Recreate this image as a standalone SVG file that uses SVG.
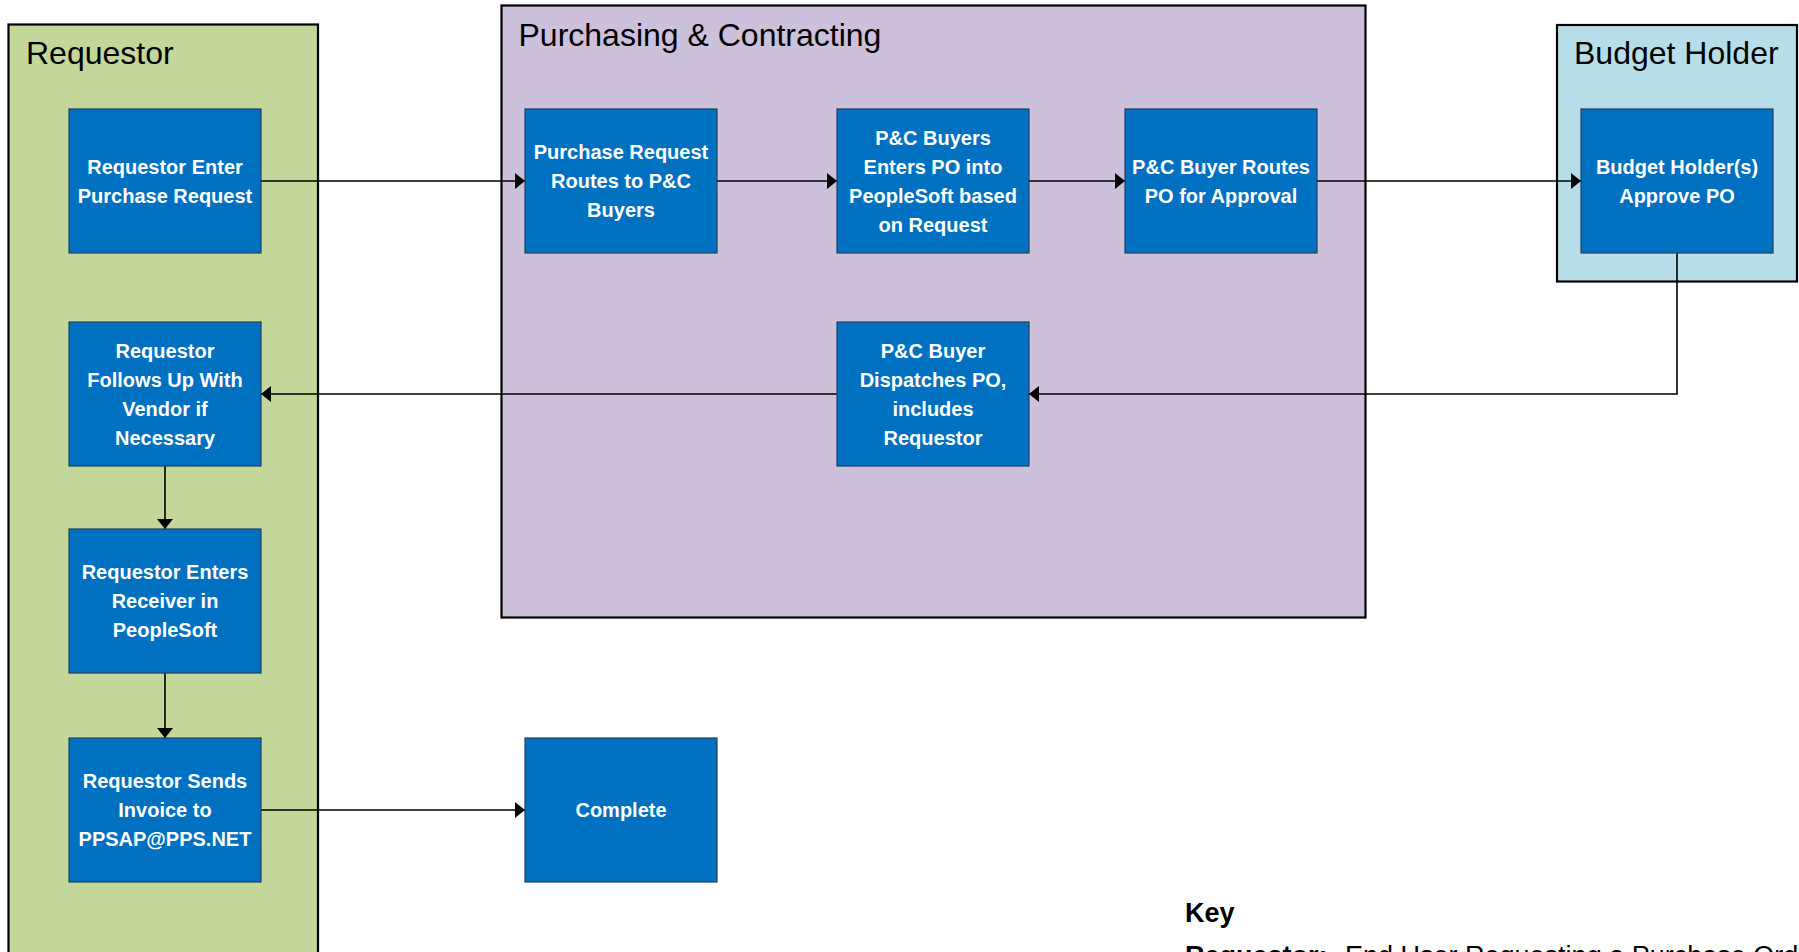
<svg xmlns="http://www.w3.org/2000/svg" width="1799" height="952" viewBox="0 0 1799 952">
<defs>
<style>
.lane{stroke:#000;stroke-width:2.2}
.lt{font-family:"Liberation Sans",Arial,sans-serif;font-size:32px;fill:#000}
.box{fill:#0070C0;stroke:#243F60;stroke-width:1.2}
.bt{font-family:"Liberation Sans",Arial,sans-serif;font-size:20px;font-weight:bold;fill:#fff;text-anchor:middle}
.cn{fill:none;stroke:#000;stroke-width:1.6}
.kt{font-family:"Liberation Sans",Arial,sans-serif;font-size:27px;fill:#000}
</style>
<marker id="ah" markerUnits="userSpaceOnUse" markerWidth="10" markerHeight="16" refX="10" refY="8" orient="auto">
<path d="M0,0 L10,8 L0,16 Z" fill="#000"/>
</marker>
</defs>
<rect width="1799" height="952" fill="#fff"/>
<g id="lane-requestor">
<rect class="lane" x="8.5" y="24.5" width="309.5" height="940" fill="#C4D79B"/>
<text class="lt" x="26" y="64">Requestor</text>
</g>
<g id="lane-purchasing">
<rect class="lane" x="501.5" y="5.5" width="864" height="612" fill="#CCC0DA"/>
<text class="lt" x="518.5" y="46">Purchasing &amp; Contracting</text>
</g>
<g id="lane-budget">
<rect class="lane" x="1557" y="25" width="240" height="256.5" fill="#B7DEE8"/>
<text class="lt" x="1574" y="64">Budget Holder</text>
</g>
<g id="connectors">
<path class="cn" d="M261,181 H525" marker-end="url(#ah)"/>
<path class="cn" d="M717,181 H837" marker-end="url(#ah)"/>
<path class="cn" d="M1029,181 H1125" marker-end="url(#ah)"/>
<path class="cn" d="M1317,181 H1581" marker-end="url(#ah)"/>
<path class="cn" d="M1677,253 V394 H1029" marker-end="url(#ah)"/>
<path class="cn" d="M837,394 H261" marker-end="url(#ah)"/>
<path class="cn" d="M165,466 V529" marker-end="url(#ah)"/>
<path class="cn" d="M165,673 V738" marker-end="url(#ah)"/>
<path class="cn" d="M261,810 H525" marker-end="url(#ah)"/>
</g>
<g id="n1">
<rect class="box" x="69" y="109" width="192" height="144"/>
<text class="bt" x="165" y="173.5">Requestor Enter</text>
<text class="bt" x="165" y="202.5">Purchase Request</text>
</g>
<g id="n2">
<rect class="box" x="525" y="109" width="192" height="144"/>
<text class="bt" x="621" y="159">Purchase Request</text>
<text class="bt" x="621" y="188">Routes to P&amp;C</text>
<text class="bt" x="621" y="217">Buyers</text>
</g>
<g id="n3">
<rect class="box" x="837" y="109" width="192" height="144"/>
<text class="bt" x="933" y="144.5">P&amp;C Buyers</text>
<text class="bt" x="933" y="173.5">Enters PO into</text>
<text class="bt" x="933" y="202.5">PeopleSoft based</text>
<text class="bt" x="933" y="231.5">on Request</text>
</g>
<g id="n4">
<rect class="box" x="1125" y="109" width="192" height="144"/>
<text class="bt" x="1221" y="173.5">P&amp;C Buyer Routes</text>
<text class="bt" x="1221" y="202.5">PO for Approval</text>
</g>
<g id="n5">
<rect class="box" x="1581" y="109" width="192" height="144"/>
<text class="bt" x="1677" y="173.5">Budget Holder(s)</text>
<text class="bt" x="1677" y="202.5">Approve PO</text>
</g>
<g id="n6">
<rect class="box" x="837" y="322" width="192" height="144"/>
<text class="bt" x="933" y="357.5">P&amp;C Buyer</text>
<text class="bt" x="933" y="386.5">Dispatches PO,</text>
<text class="bt" x="933" y="415.5">includes</text>
<text class="bt" x="933" y="444.5">Requestor</text>
</g>
<g id="n7">
<rect class="box" x="69" y="322" width="192" height="144"/>
<text class="bt" x="165" y="357.5">Requestor</text>
<text class="bt" x="165" y="386.5">Follows Up With</text>
<text class="bt" x="165" y="415.5">Vendor if</text>
<text class="bt" x="165" y="444.5">Necessary</text>
</g>
<g id="n8">
<rect class="box" x="69" y="529" width="192" height="144"/>
<text class="bt" x="165" y="579">Requestor Enters</text>
<text class="bt" x="165" y="608">Receiver in</text>
<text class="bt" x="165" y="637">PeopleSoft</text>
</g>
<g id="n9">
<rect class="box" x="69" y="738" width="192" height="144"/>
<text class="bt" x="165" y="788">Requestor Sends</text>
<text class="bt" x="165" y="817">Invoice to</text>
<text class="bt" x="165" y="846">PPSAP@PPS.NET</text>
</g>
<g id="n10">
<rect class="box" x="525" y="738" width="192" height="144"/>
<text class="bt" x="621" y="817">Complete</text>
</g>
<g id="key">
<text class="kt" x="1185" y="922" font-weight="bold">Key</text>
<text class="kt" x="1185" y="965"><tspan font-weight="bold">Requestor:</tspan><tspan x="1345">End User Requesting a Purchase Order</tspan></text>
</g>
</svg>
